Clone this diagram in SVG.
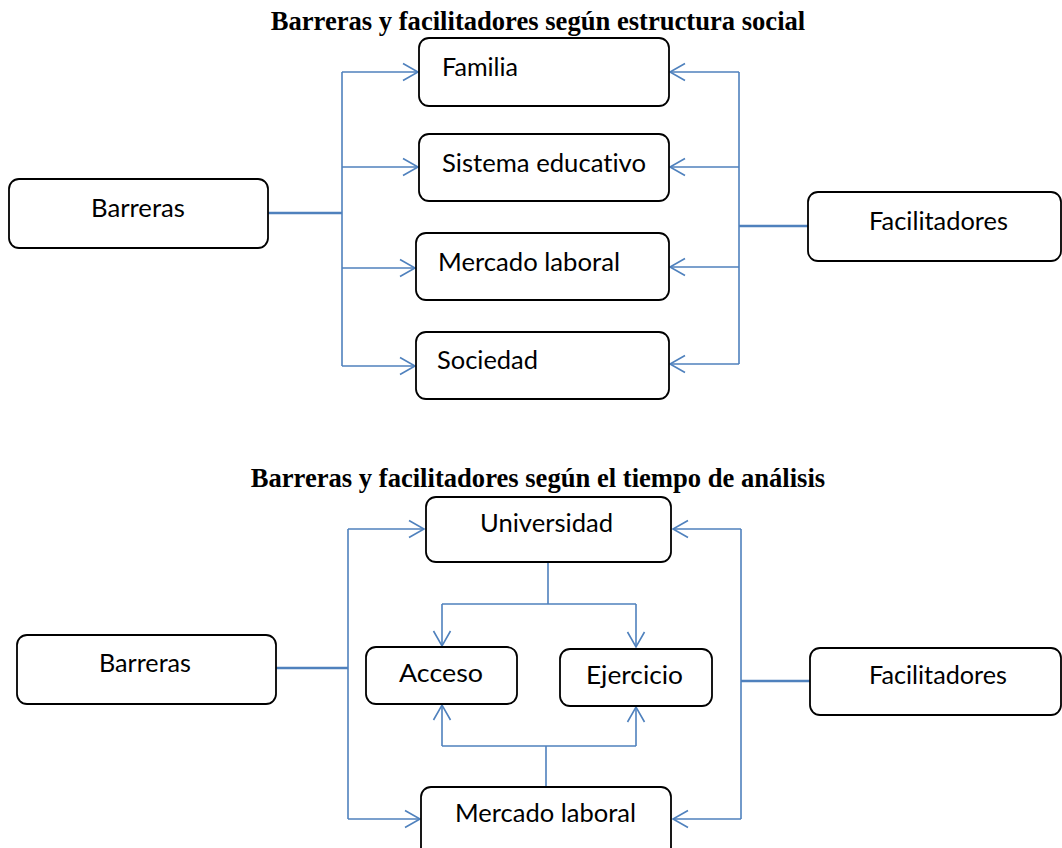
<svg xmlns="http://www.w3.org/2000/svg" width="1062" height="848" viewBox="0 0 1062 848">
<style>
.box{fill:#fff;stroke:#000;stroke-width:1.8}
.lbl{font-family:Lato,"Liberation Sans",sans-serif;font-size:25px;fill:#000;font-variant-ligatures:none}
.ttl{font-family:"Liberation Serif",serif;font-size:26.6px;font-weight:bold;fill:#000}
.c{fill:none;stroke:#4f81bd;stroke-width:1.6}
.ct{fill:none;stroke:#4f81bd;stroke-width:2.6}
</style>
<defs>
<marker id="ah" markerUnits="userSpaceOnUse" markerWidth="20" markerHeight="20" viewBox="-17 -10 20 20" refX="0" refY="0" orient="auto">
<path d="M-15,-8.5 L0,0 L-15,8.5" fill="none" stroke="#4f81bd" stroke-width="1.6"/>
</marker>
</defs>
<rect width="1062" height="848" fill="#fff"/>
<text class="ttl" x="538" y="30" text-anchor="middle">Barreras y facilitadores según estructura social</text>
<text class="ttl" x="538" y="487" text-anchor="middle">Barreras y facilitadores según el tiempo de análisis</text>
<g id="connectors">
<path class="ct" d="M268,213 H342"/>
<path class="c" d="M342,72 V366"/>
<path class="c" d="M342,72 H418" marker-end="url(#ah)"/>
<path class="c" d="M342,167 H418" marker-end="url(#ah)"/>
<path class="c" d="M342,268 H415" marker-end="url(#ah)"/>
<path class="c" d="M342,366 H415" marker-end="url(#ah)"/>
<path class="ct" d="M808,226 H739"/>
<path class="c" d="M739,72 V364"/>
<path class="c" d="M739,72 H670" marker-end="url(#ah)"/>
<path class="c" d="M739,167 H670" marker-end="url(#ah)"/>
<path class="c" d="M739,267 H670" marker-end="url(#ah)"/>
<path class="c" d="M739,364 H670" marker-end="url(#ah)"/>
<path class="ct" d="M276,668 H348"/>
<path class="c" d="M348,529 V819"/>
<path class="c" d="M348,529 H424" marker-end="url(#ah)"/>
<path class="c" d="M348,819 H420" marker-end="url(#ah)"/>
<path class="c" d="M548,562 V604 M442,604 H636"/>
<path class="c" d="M442,604 V646" marker-end="url(#ah)"/>
<path class="c" d="M636,604 V647" marker-end="url(#ah)"/>
<path class="c" d="M546,787 V746 M442,746 H636"/>
<path class="c" d="M442,746 V705" marker-end="url(#ah)"/>
<path class="c" d="M636,746 V707" marker-end="url(#ah)"/>
<path class="ct" d="M810,681 H741"/>
<path class="c" d="M741,529 V819"/>
<path class="c" d="M741,529 H673" marker-end="url(#ah)"/>
<path class="c" d="M741,819 H673" marker-end="url(#ah)"/>
</g>
<g id="n-barreras1"><rect class="box" x="9" y="179" width="259" height="69" rx="10"/><text class="lbl" x="91" y="217" textLength="94" lengthAdjust="spacingAndGlyphs">Barreras</text></g>
<g id="n-familia"><rect class="box" x="419" y="38" width="250" height="68" rx="10"/><text class="lbl" x="442" y="76" textLength="76" lengthAdjust="spacingAndGlyphs">Familia</text></g>
<g id="n-sistema"><rect class="box" x="419" y="134" width="250" height="67" rx="10"/><text class="lbl" x="442" y="172" textLength="204" lengthAdjust="spacingAndGlyphs">Sistema educativo</text></g>
<g id="n-mercado1"><rect class="box" x="416" y="233" width="253" height="67" rx="10"/><text class="lbl" x="438" y="271" textLength="182" lengthAdjust="spacingAndGlyphs">Mercado laboral</text></g>
<g id="n-sociedad"><rect class="box" x="416" y="332" width="253" height="67" rx="10"/><text class="lbl" x="437" y="369" textLength="101" lengthAdjust="spacingAndGlyphs">Sociedad</text></g>
<g id="n-facilitadores1"><rect class="box" x="808" y="192" width="253" height="69" rx="10"/><text class="lbl" x="869" y="230" textLength="139" lengthAdjust="spacingAndGlyphs">Facilitadores</text></g>
<g id="n-barreras2"><rect class="box" x="17" y="635" width="259" height="69" rx="10"/><text class="lbl" x="99" y="672" textLength="92" lengthAdjust="spacingAndGlyphs">Barreras</text></g>
<g id="n-universidad"><rect class="box" x="426" y="497" width="245" height="65" rx="10"/><text class="lbl" x="480" y="532" textLength="133" lengthAdjust="spacingAndGlyphs">Universidad</text></g>
<g id="n-acceso"><rect class="box" x="366" y="647" width="151" height="57" rx="10"/><text class="lbl" x="399" y="682" textLength="84" lengthAdjust="spacingAndGlyphs">Acceso</text></g>
<g id="n-ejercicio"><rect class="box" x="560" y="649" width="152" height="57" rx="10"/><text class="lbl" x="586" y="684" textLength="97" lengthAdjust="spacingAndGlyphs">Ejercicio</text></g>
<g id="n-mercado2"><rect class="box" x="421" y="787" width="250" height="72" rx="10"/><text class="lbl" x="455" y="822" textLength="181" lengthAdjust="spacingAndGlyphs">Mercado laboral</text></g>
<g id="n-facilitadores2"><rect class="box" x="810" y="648" width="251" height="67" rx="10"/><text class="lbl" x="869" y="684" textLength="138" lengthAdjust="spacingAndGlyphs">Facilitadores</text></g>
</svg>
